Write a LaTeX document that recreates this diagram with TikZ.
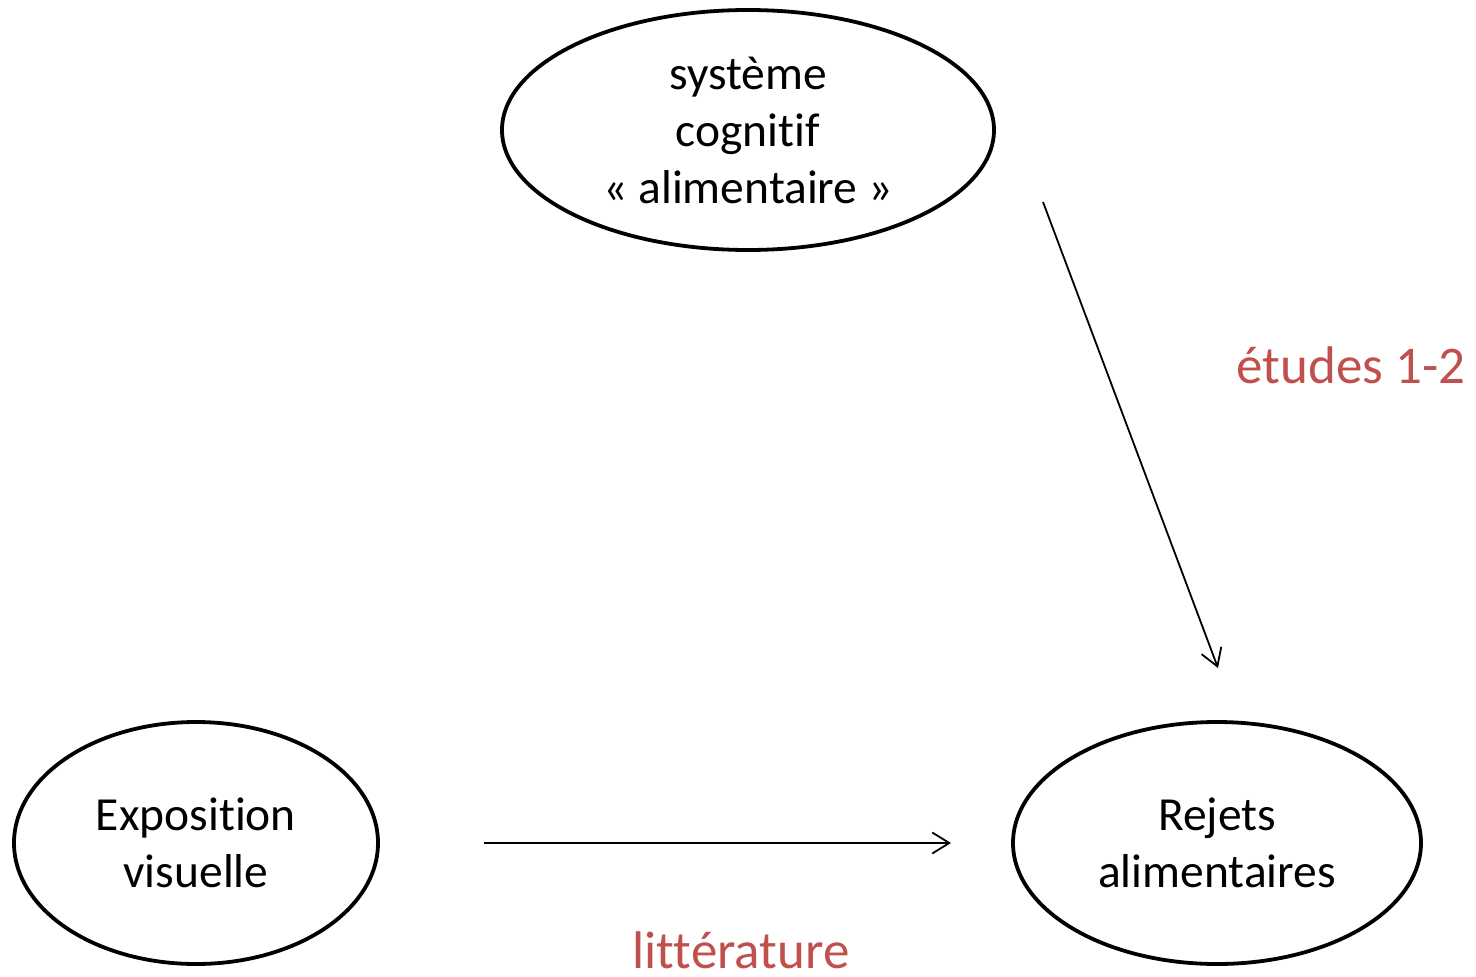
\documentclass[tikz,border=0pt]{standalone}
\usepackage{fontspec}
\setmainfont{Carlito}[Ligatures={NoCommon}]
\usetikzlibrary{shapes.geometric,arrows.meta}
\definecolor{labred}{RGB}{192,80,77}
\begin{document}
\begin{tikzpicture}[x=1pt,y=-1pt,
  oval/.style={ellipse, draw=black, line width=3.8pt, inner sep=0pt, align=center,
    font=\fontsize{47.5}{57}\selectfont},
  conn/.style={line width=1.8pt, -{Straight Barb[length=17pt,width=21pt,line width=1.8pt]}},
  lab/.style={text=labred, font=\fontsize{53}{60}\selectfont, anchor=base, inner sep=0pt, text depth=0pt}]
\useasboundingbox (0,0) rectangle (1476,977);
\node[oval, minimum width=492pt, minimum height=240pt] (sys) at (748,130) {système\\cognitif\\« alimentaire »};
\node[oval, minimum width=364pt, minimum height=242pt] (expo) at (196,843) {Exposition\\visuelle};
\node[oval, minimum width=408pt, minimum height=242pt] (rej) at (1217,843) {Rejets\\alimentaires};
\coordinate (a1s) at (1043,202);
\coordinate (a1e) at (1218,668);
\coordinate (a2s) at (484,843);
\coordinate (a2e) at (951,843);
\draw[conn] (a1s) -- (a1e);
\draw[conn] (a2s) -- (a2e);
\node[lab] (etu) at (1351,383) {études 1-2};
\node[lab] (lit) at (741,968) {littérature};
\end{tikzpicture}
\end{document}
